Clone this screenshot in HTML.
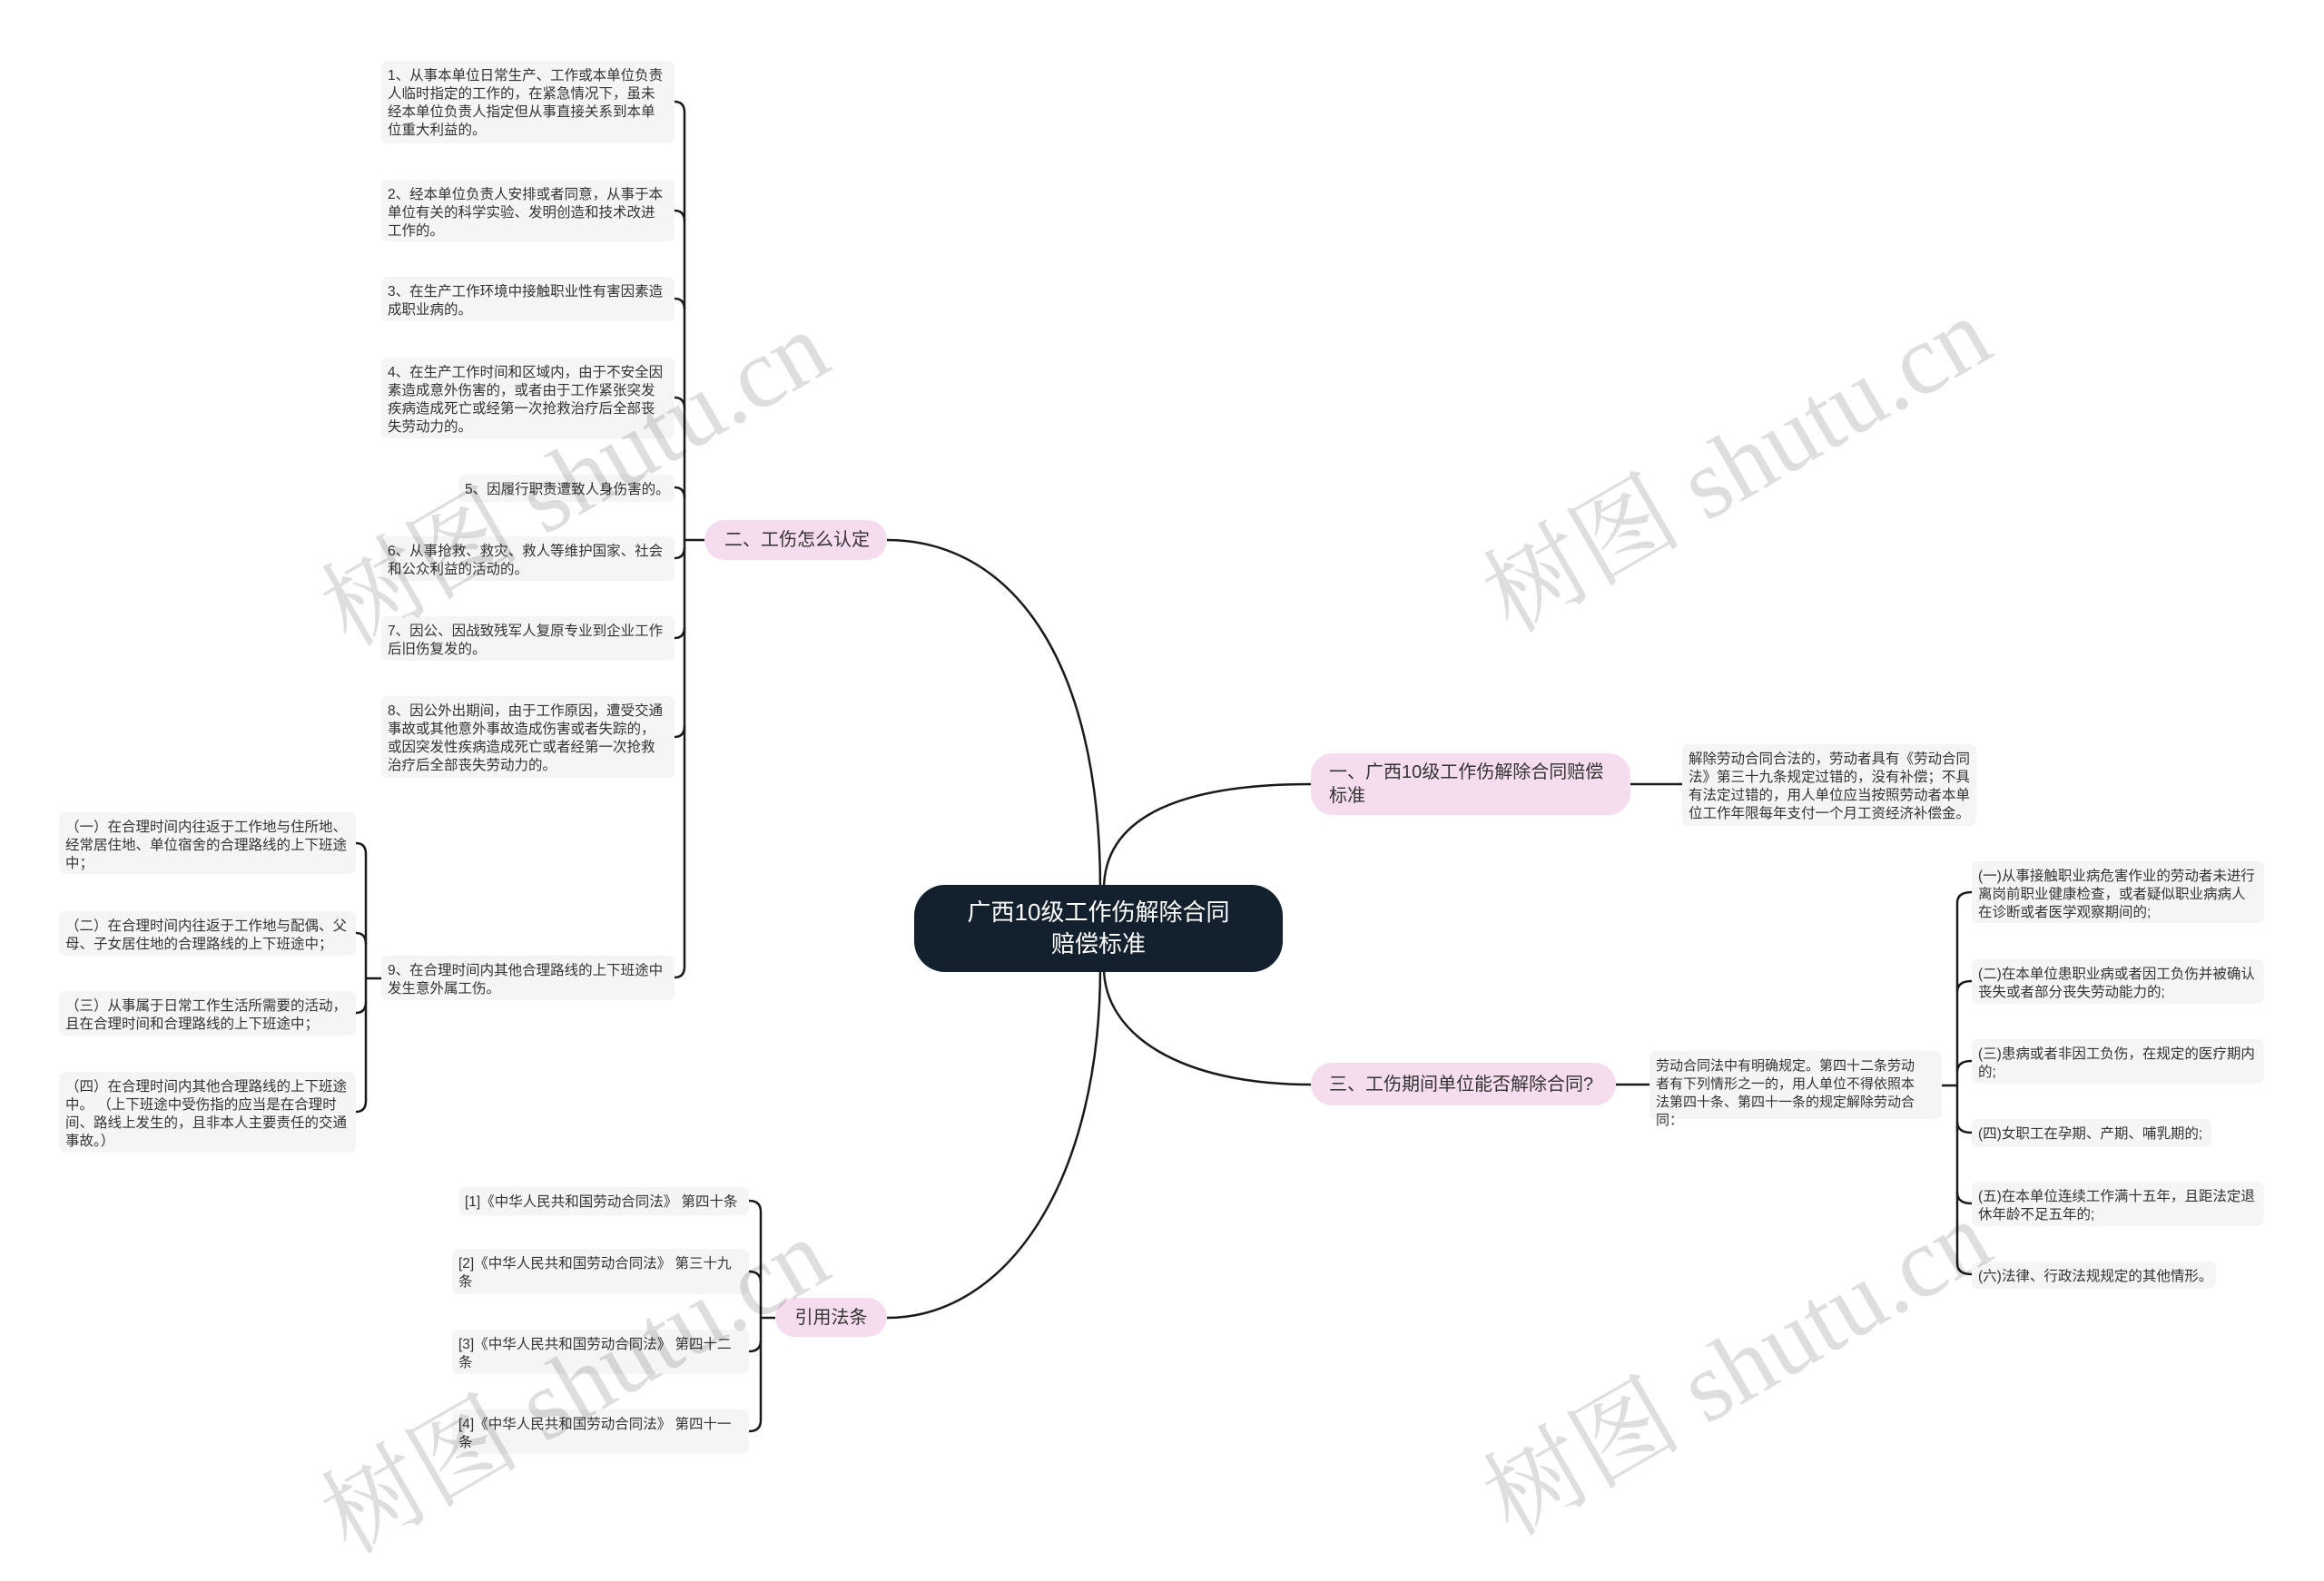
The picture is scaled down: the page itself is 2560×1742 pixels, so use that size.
<!DOCTYPE html>
<html><head><meta charset="utf-8"><style>
body{margin:0;width:2560px;height:1672px;background:#fff;position:relative;overflow:hidden;font-family:"Liberation Sans","Noto Sans CJK SC",sans-serif;}
.l{position:absolute;background:#f5f5f5;border-radius:7px;font-size:15.5px;line-height:20px;color:#333;padding:7px 7px;box-sizing:border-box;}
.n{white-space:nowrap;}
.b{position:absolute;background:#f6dcef;border-radius:24px;font-size:20px;line-height:26px;color:#333;box-sizing:border-box;padding:0 20px;display:flex;align-items:center;}
.c{position:absolute;left:1007px;top:975px;width:406px;height:96px;background:#13202e;border-radius:34px;color:#fff;font-size:26px;line-height:35px;text-align:center;display:flex;align-items:center;justify-content:center;}
.w{position:absolute;font-family:"Liberation Serif","Noto Serif CJK SC",serif;font-size:110px;color:rgba(0,0,0,0.13);transform:rotate(-30deg);white-space:nowrap;}
svg{position:absolute;left:0;top:0}
</style></head><body>
<svg width="2560" height="1672" fill="none" stroke="#1a1a1a" stroke-width="2.5">
<path d="M1212 980 C1212 720 1110 595 977 595"/>
<path d="M1212 1066 C1212 1300 1110 1452 977 1452"/>
<path d="M1216 980 C1216 900 1300 864 1444 864"/>
<path d="M1216 1066 C1216 1140 1300 1195 1444 1195"/>
<path d="M1796 864 L1853 864"/>
<path d="M1780 1195 L1817 1195"/>
<path d="M754 124 L754 1065 M754 595 L776 595"/>
<path d="M743 112 Q754 112 754 124 M743 232 Q754 232 754 244 M743 329 Q754 329 754 341 M743 438 Q754 438 754 450 M743 537 Q754 537 754 549 M743 615 Q754 615 754 603 M743 703 Q754 703 754 691 M743 812 Q754 812 754 800 M743 1077 Q754 1077 754 1065"/>
<path d="M403 941 L403 1213 M403 1078 L420 1078"/>
<path d="M392 929 Q403 929 403 941 M392 1028 Q403 1028 403 1040 M392 1116 Q403 1116 403 1104 M392 1225 Q403 1225 403 1213"/>
<path d="M838 1335 L838 1565 M838 1452 L854 1452"/>
<path d="M825 1323 Q838 1323 838 1335 M825 1401 Q838 1401 838 1413 M825 1489 Q838 1489 838 1477 M825 1577 Q838 1577 838 1565"/>
<path d="M2156 995 L2156 1392 M2139 1196 L2156 1196"/>
<path d="M2172 983 Q2156 983 2156 995 M2172 1081 Q2156 1081 2156 1093 M2172 1169 Q2156 1169 2156 1181 M2172 1248 Q2156 1248 2156 1236 M2172 1326 Q2156 1326 2156 1314 M2172 1404 Q2156 1404 2156 1392"/>
</svg>
<div class="c">广西10级工作伤解除合同<br>赔偿标准</div>
<div class="b" style="left:1444px;top:830px;width:352px;height:68px;">一、广西10级工作伤解除合同赔偿标准</div>
<div class="b n" style="left:1444px;top:1171px;width:336px;height:47px;">三、工伤期间单位能否解除合同?</div>
<div class="b n" style="left:776px;top:573px;width:201px;height:44px;padding:0 22px;">二、工伤怎么认定</div>
<div class="b" style="left:854px;top:1430px;width:123px;height:43px;justify-content:center;padding:0">引用法条</div>
<div class="l" style="left:1853px;top:820px;width:324px;height:90px;">解除劳动合同合法的，劳动者具有《劳动合同法》第三十九条规定过错的，没有补偿；不具有法定过错的，用人单位应当按照劳动者本单位工作年限每年支付一个月工资经济补偿金。</div>
<div class="l" style="left:1817px;top:1158px;width:322px;height:75px;font-size:15px;padding-right:16px;">劳动合同法中有明确规定。第四十二条劳动者有下列情形之一的，用人单位不得依照本法第四十条、第四十一条的规定解除劳动合同：</div>
<div class="l" style="left:2172px;top:949px;width:322px;height:68px;">(一)从事接触职业病危害作业的劳动者未进行离岗前职业健康检查，或者疑似职业病病人在诊断或者医学观察期间的;</div>
<div class="l" style="left:2172px;top:1057px;width:322px;height:49px;">(二)在本单位患职业病或者因工负伤并被确认丧失或者部分丧失劳动能力的;</div>
<div class="l" style="left:2172px;top:1145px;width:322px;height:49px;">(三)患病或者非因工负伤，在规定的医疗期内的;</div>
<div class="l n" style="left:2172px;top:1233px;width:264px;height:31px;">(四)女职工在孕期、产期、哺乳期的;</div>
<div class="l" style="left:2172px;top:1302px;width:322px;height:49px;">(五)在本单位连续工作满十五年，且距法定退休年龄不足五年的;</div>
<div class="l n" style="left:2172px;top:1390px;width:269px;height:30px;">(六)法律、行政法规规定的其他情形。</div>
<div class="l" style="left:420px;top:67px;width:323px;height:91px;">1、从事本单位日常生产、工作或本单位负责人临时指定的工作的，在紧急情况下，虽未经本单位负责人指定但从事直接关系到本单位重大利益的。</div>
<div class="l" style="left:420px;top:198px;width:323px;height:68px;">2、经本单位负责人安排或者同意，从事于本单位有关的科学实验、发明创造和技术改进工作的。</div>
<div class="l" style="left:420px;top:305px;width:323px;height:49px;">3、在生产工作环境中接触职业性有害因素造成职业病的。</div>
<div class="l" style="left:420px;top:394px;width:323px;height:89px;">4、在生产工作时间和区域内，由于不安全因素造成意外伤害的，或者由于工作紧张突发疾病造成死亡或经第一次抢救治疗后全部丧失劳动力的。</div>
<div class="l n" style="left:505px;top:523px;width:238px;height:30px;">5、因履行职责遭致人身伤害的。</div>
<div class="l" style="left:420px;top:591px;width:323px;height:49px;">6、从事抢救、救灾、救人等维护国家、社会和公众利益的活动的。</div>
<div class="l" style="left:420px;top:679px;width:323px;height:49px;">7、因公、因战致残军人复原专业到企业工作后旧伤复发的。</div>
<div class="l" style="left:420px;top:767px;width:323px;height:90px;">8、因公外出期间，由于工作原因，遭受交通事故或其他意外事故造成伤害或者失踪的，或因突发性疾病造成死亡或者经第一次抢救治疗后全部丧失劳动力的。</div>
<div class="l" style="left:420px;top:1053px;width:323px;height:49px;">9、在合理时间内其他合理路线的上下班途中发生意外属工伤。</div>
<div class="l" style="left:65px;top:895px;width:327px;height:68px;">（一）在合理时间内往返于工作地与住所地、经常居住地、单位宿舍的合理路线的上下班途中；</div>
<div class="l" style="left:65px;top:1004px;width:327px;height:49px;">（二）在合理时间内往返于工作地与配偶、父母、子女居住地的合理路线的上下班途中；</div>
<div class="l" style="left:65px;top:1092px;width:327px;height:49px;">（三）从事属于日常工作生活所需要的活动，且在合理时间和合理路线的上下班途中；</div>
<div class="l" style="left:65px;top:1181px;width:327px;height:89px;">（四）在合理时间内其他合理路线的上下班途中。 （上下班途中受伤指的应当是在合理时间、路线上发生的，且非本人主要责任的交通事故。）</div>
<div class="l n" style="left:505px;top:1308px;width:320px;height:31px;">[1]《中华人民共和国劳动合同法》 第四十条</div>
<div class="l" style="left:498px;top:1376px;width:327px;height:50px;">[2]《中华人民共和国劳动合同法》 第三十九条</div>
<div class="l" style="left:498px;top:1465px;width:327px;height:49px;">[3]《中华人民共和国劳动合同法》 第四十二条</div>
<div class="l" style="left:498px;top:1553px;width:327px;height:49px;">[4]《中华人民共和国劳动合同法》 第四十一条</div>
<div class="w" style="left:320px;top:440px;">树图 shutu.cn</div>
<div class="w" style="left:1600px;top:425px;">树图 shutu.cn</div>
<div class="w" style="left:320px;top:1440px;">树图 shutu.cn</div>
<div class="w" style="left:1600px;top:1420px;">树图 shutu.cn</div>
</body></html>
